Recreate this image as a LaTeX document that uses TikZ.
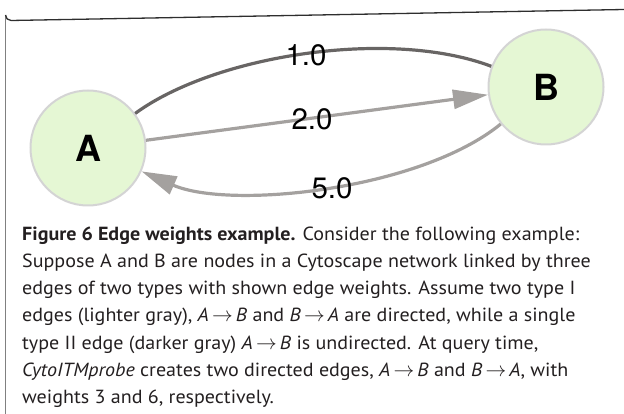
\documentclass[tikz,border=0pt]{standalone}
\usepackage{fontspec}
\setmainfont[FakeStretch=1.055]{PT Sans}
\newfontfamily\heros{TeX Gyre Heros}
\usetikzlibrary{arrows.meta}
\definecolor{nodefill}{RGB}{229,247,212}
\definecolor{nodeborder}{RGB}{212,212,212}
\definecolor{darkedge}{RGB}{104,101,100}
\definecolor{lightedge}{RGB}{164,161,159}
\definecolor{captext}{RGB}{35,31,32}
\newcommand{\myarr}{\,{\fontsize{22}{22}\selectfont$\rightarrow$}\,}
\begin{document}
\begin{tikzpicture}[x=1pt,y=-1pt,
  gnode/.style={circle, draw=nodeborder, line width=2pt, fill=nodefill,
    minimum size=115pt, inner sep=0pt,
    font=\heros\bfseries\fontsize{36}{36}\selectfont},
  elabel/.style={font=\heros\fontsize{29.5}{29.5}\selectfont, inner sep=0pt},
  wedge/.style={line width=3.2pt},
  tipped/.style={-{Triangle[length=35pt,width=19pt]}},
  capline/.style={anchor=base west, inner sep=0pt, text=captext,
    font=\fontsize{19}{27}\selectfont}]
\useasboundingbox (0,0) rectangle (624,414);
% frame
\draw[line width=1.5pt, color=black!50] (5.5,414) -- (5.5,15);
\draw[line width=1.3pt, color=black!82] (5.5,15) arc (180:90:5.5) -- (624,9.5);
% nodes
\node[gnode] (A) at (88,148) {A};
\node[gnode] (B) at (546,87) {B};
% edges
\draw[wedge, darkedge] (A) .. controls (215,55) and (390,28) .. (B);
\draw[wedge, lightedge, tipped] (A) -- (B);
\draw[wedge, lightedge, tipped] (B) .. controls (420,190) and (230,210) .. (A);
% edge labels
\node[elabel] (l1) at (306,55) {1.0};
\node[elabel] (l2) at (312,119) {2.0};
\node[elabel] (l5) at (332,188) {5.0};
% caption
\node[capline] (c1) at (22,240.6) {\textbf{Figure 6 Edge weights example.} Consider the following example:};
\node[capline] (c2) at (22,267.7) {Suppose A and B are nodes in a Cytoscape network linked by three};
\node[capline] (c3) at (22,294.8) {edges of two types with shown edge weights. Assume two type I};
\node[capline] (c4) at (22,321.9) {edges (lighter gray), \textit{A}\myarr\textit{B} and \textit{B}\myarr\textit{A} are directed, while a single};
\node[capline] (c5) at (22,349.0) {type II edge (darker gray) \textit{A}\myarr\textit{B} is undirected. At query time,};
\node[capline] (c6) at (22,376.1) {\textit{CytoITMprobe} creates two directed edges, \textit{A}\myarr\textit{B} and \textit{B}\myarr\textit{A}, with};
\node[capline] (c7) at (22,403.2) {weights 3 and 6, respectively.};
\end{tikzpicture}
\end{document}
